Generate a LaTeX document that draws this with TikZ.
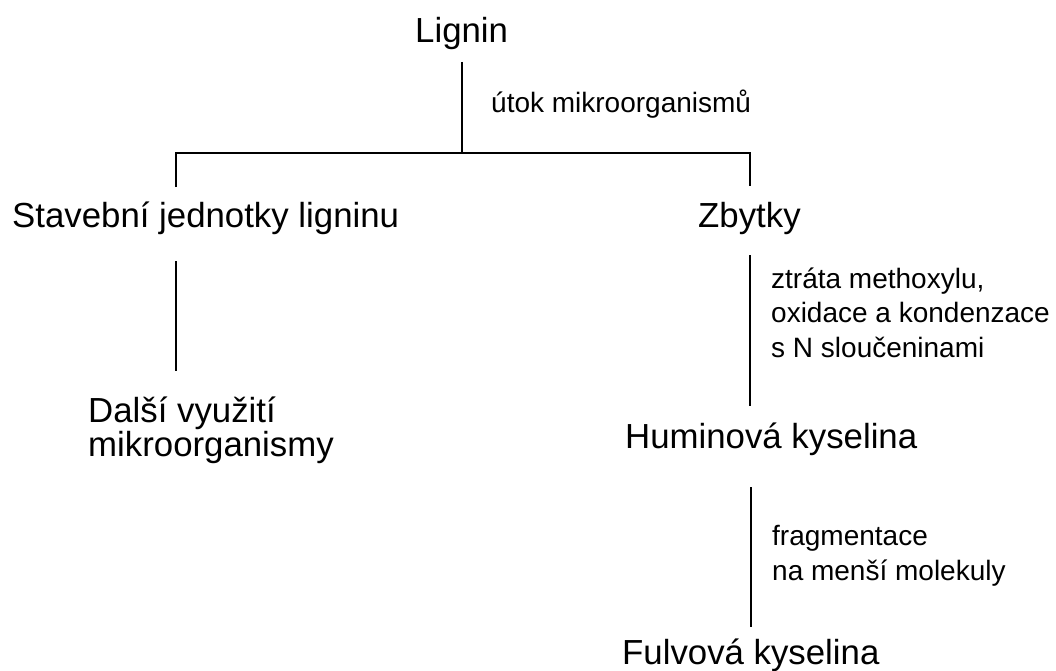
\documentclass[tikz,border=0pt]{standalone}
\usepackage{fontspec}
\setmainfont{Liberation Sans}
\begin{document}
\begin{tikzpicture}[x=1pt,y=-1pt,
  maintxt/.style={inner sep=0pt, anchor=base west, align=left, font=\fontsize{34.8}{33.5}\selectfont},
  lbltxt/.style={inner sep=0pt, anchor=base west, align=left, font=\fontsize{28}{34.5}\selectfont},
  conn/.style={line width=1.7pt, line cap=butt}]
\useasboundingbox[fill=white] (0,0) rectangle (1056,671);
% texts (base = baseline of the last line)
\node[maintxt] (lignin) at (415,43) {Lignin};
\node[lbltxt] (utok) at (491,113) {útok mikroorganismů};
\node[maintxt] (stav) at (12,227) {Stavební jednotky ligninu};
\node[maintxt] (zbytky) at (698,227) {Zbytky};
\node[lbltxt] (ztrata) at (771,357) {ztráta methoxylu,\\oxidace a kondenzace\\s N sloučeninami};
\node[maintxt] (dalsi) at (88,456) {Další využití\\mikroorganismy};
\node[maintxt] (humin) at (625,448) {Huminová kyselina};
\node[lbltxt] (frag) at (772,580) {fragmentace\\na menší molekuly};
\node[maintxt] (fulvo) at (622,664) {Fulvová kyselina};
% connector end points
\coordinate (ligbot) at (462,62);
\coordinate (junc) at (462,153);
\coordinate (lcorner) at (176,153);
\coordinate (rcorner) at (750,153);
\coordinate (stavtop) at (176,187);
\coordinate (zbytop) at (750,186);
\coordinate (stavbot) at (176,261);
\coordinate (daltop) at (176,371);
\coordinate (zbybot) at (750,255);
\coordinate (humtop) at (750,406);
\coordinate (humbot) at (751,487);
\coordinate (fultop) at (751,627);
% connectors
\draw[conn] (ligbot) -- (junc);
\draw[conn] (stavtop) -- (lcorner) -- (rcorner) -- (zbytop);
\draw[conn] (stavbot) -- (daltop);
\draw[conn] (zbybot) -- (humtop);
\draw[conn] (humbot) -- (fultop);
\end{tikzpicture}
\end{document}
